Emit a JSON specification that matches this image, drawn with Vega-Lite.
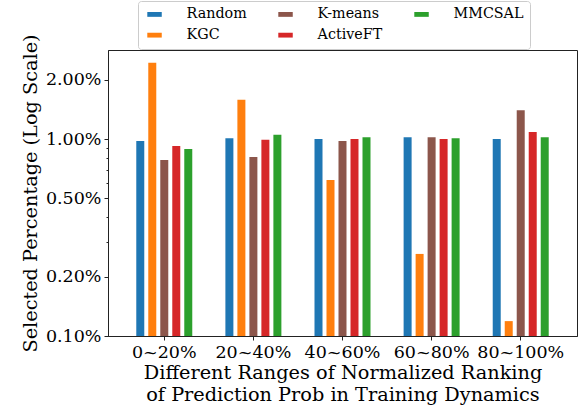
{
  "$schema": "https://vega.github.io/schema/vega-lite/v6.json",
  "autosize": {"type": "none"},
  "width": 469,
  "height": 286,
  "padding": {"left": 108, "top": 50, "right": 7, "bottom": 74},
  "background": "white",
  "config": {
    "view": {"stroke": "#222", "strokeWidth": 1},
    "axis": {"grid": false, "domainColor": "#222", "tickColor": "#222", "labelColor": "black", "titleColor": "black", "labelFont": "DejaVu Serif", "labelFontSize": 17.5, "titleFont": "DejaVu Serif", "titleFontSize": 19.3, "titleFontWeight": "normal", "tickSize": 4},
    "legend": {"labelFont": "DejaVu Serif", "labelFontSize": 14}
  },
  "data": {"values": [
    {"group": "0~20%", "method": "Random", "value": 0.977},
    {"group": "0~20%", "method": "KGC", "value": 2.44},
    {"group": "0~20%", "method": "K-means", "value": 0.782},
    {"group": "0~20%", "method": "ActiveFT", "value": 0.921},
    {"group": "0~20%", "method": "MMCSAL", "value": 0.89},
    {"group": "20~40%", "method": "Random", "value": 1.01},
    {"group": "20~40%", "method": "KGC", "value": 1.58},
    {"group": "20~40%", "method": "K-means", "value": 0.81},
    {"group": "20~40%", "method": "ActiveFT", "value": 0.99},
    {"group": "20~40%", "method": "MMCSAL", "value": 1.05},
    {"group": "40~60%", "method": "Random", "value": 1.0},
    {"group": "40~60%", "method": "KGC", "value": 0.619},
    {"group": "40~60%", "method": "K-means", "value": 0.977},
    {"group": "40~60%", "method": "ActiveFT", "value": 1.0},
    {"group": "40~60%", "method": "MMCSAL", "value": 1.02},
    {"group": "60~80%", "method": "Random", "value": 1.02},
    {"group": "60~80%", "method": "KGC", "value": 0.261},
    {"group": "60~80%", "method": "K-means", "value": 1.02},
    {"group": "60~80%", "method": "ActiveFT", "value": 1.0},
    {"group": "60~80%", "method": "MMCSAL", "value": 1.01},
    {"group": "80~100%", "method": "Random", "value": 1.0},
    {"group": "80~100%", "method": "KGC", "value": 0.119},
    {"group": "80~100%", "method": "K-means", "value": 1.4},
    {"group": "80~100%", "method": "ActiveFT", "value": 1.085},
    {"group": "80~100%", "method": "MMCSAL", "value": 1.02}
  ]},
  "mark": {"type": "bar"},
  "encoding": {
    "x": {
      "field": "group", "type": "nominal",
      "sort": ["0~20%", "20~40%", "40~60%", "60~80%", "80~100%"],
      "scale": {"paddingInner": 0.237, "paddingOuter": 0.25},
      "axis": {"labelAngle": 0, "labelPadding": 3, "titlePadding": 3, "titleLineHeight": 22,
        "title": ["Different Ranges of Normalized Ranking", "of Prediction Prob in Training Dynamics"]}
    },
    "xOffset": {
      "field": "method", "type": "nominal",
      "sort": ["Random", "KGC", "K-means", "ActiveFT", "MMCSAL"],
      "scale": {"paddingInner": 0.3333, "paddingOuter": 0.5}
    },
    "y": {
      "field": "value", "type": "quantitative",
      "scale": {"type": "log", "domain": [0.1, 2.83], "nice": false, "zero": false},
      "axis": {
        "values": [0.1, 0.2, 0.3, 0.4, 0.5, 0.6, 0.7, 0.8, 0.9, 1, 2],
        "labelExpr": "indexof([0.1, 0.2, 0.5, 1, 2], datum.value) >= 0 ? format(datum.value, '.2f') + '%' : ''",
        "tickSize": {"condition": {"test": "indexof([0.1, 0.2, 0.5, 1, 2], datum.value) < 0", "value": 2}, "value": 4},
        "labelOverlap": false,
        "title": "Selected Percentage (Log Scale)", "titlePadding": 5, "labelPadding": 3
      }
    },
    "y2": {"datum": 0.1},
    "color": {
      "field": "method", "type": "nominal",
      "scale": {"domain": ["Random", "K-means", "MMCSAL", "KGC", "ActiveFT"], "range": ["#1f77b4", "#8c564b", "#2ca02c", "#ff7f0e", "#d62728"]},
      "legend": {
        "title": null, "orient": "none", "legendX": 30, "legendY": -49,
        "columns": 3, "direction": "horizontal", "gridAlign": "each", "columnPadding": 28, "rowPadding": 6,
        "symbolType": "M-0.8,-0.5H2.2V0.5H-0.8Z", "symbolSize": 93, "symbolStrokeWidth": 0, "symbolOpacity": 1,
        "labelFont": "DejaVu Serif", "labelFontSize": 14.3, "labelColor": "black", "labelOffset": 28.3,
        "padding": 6, "strokeColor": "#cccccc", "fillColor": "white", "cornerRadius": 3
      }
    }
  }
}
